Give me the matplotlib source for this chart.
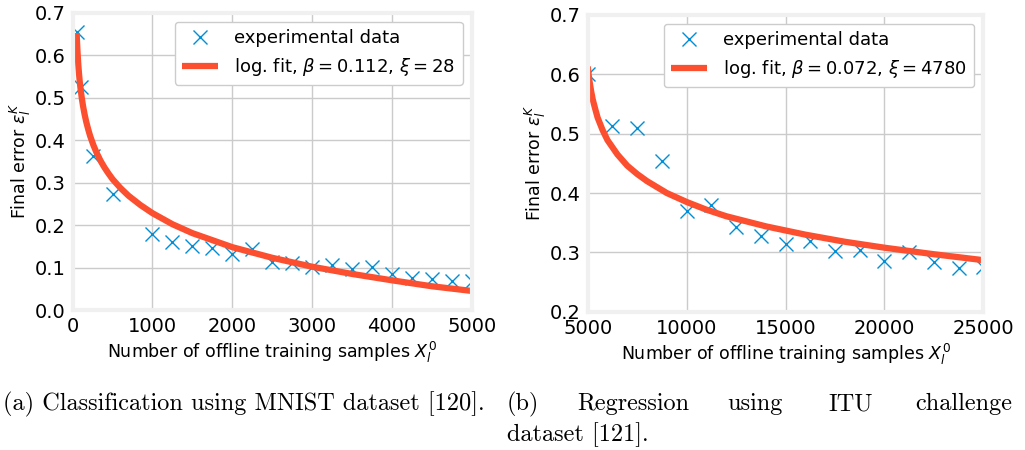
import matplotlib
matplotlib.use("Agg")
import matplotlib.pyplot as plt

# --- data ---
# (a) MNIST classification
mnist_x = [50, 100, 250, 500, 1000, 1250, 1500, 1750, 2000, 2250, 2500,
           2750, 3000, 3250, 3500, 3750, 4000, 4250, 4500, 4750, 5000]
mnist_err = [0.655, 0.524, 0.363, 0.272, 0.180, 0.159, 0.151, 0.145, 0.133,
             0.143, 0.112, 0.110, 0.102, 0.106, 0.096, 0.102, 0.086, 0.076,
             0.074, 0.069, 0.068]
mnist_fit_x = [50, 55, 60, 65, 70, 80, 90, 100, 115, 130, 150, 170, 195, 220,
               260, 300, 350, 400, 450, 500, 600, 700, 850, 1000, 1250, 1500,
               2000, 2500, 3000, 3500, 4000, 4500, 5000]
mnist_fit_y = [0.652, 0.629, 0.610, 0.594, 0.579, 0.555, 0.535, 0.519, 0.498,
               0.480, 0.460, 0.443, 0.425, 0.409, 0.388, 0.370, 0.351, 0.335,
               0.321, 0.308, 0.287, 0.269, 0.247, 0.228, 0.202, 0.181, 0.148,
               0.123, 0.102, 0.085, 0.070, 0.056, 0.045]

# (b) ITU challenge regression
itu_x = [5000, 6250, 7500, 8750, 10000, 11250, 12500, 13750, 15000, 16250,
         17500, 18750, 20000, 21250, 22500, 23750, 25000]
itu_err = [0.600, 0.513, 0.509, 0.454, 0.370, 0.380, 0.343, 0.328, 0.315,
           0.320, 0.303, 0.304, 0.286, 0.301, 0.284, 0.273, 0.276]
itu_fit_x = [5000, 5050, 5100, 5175, 5250, 5375, 5500, 5750, 6000, 6500, 7000,
             7500, 8000, 9000, 10000, 11000, 12000, 14000, 16000, 18000,
             20000, 22500, 25000]
itu_fit_y = [0.613, 0.598, 0.586, 0.571, 0.558, 0.542, 0.527, 0.506, 0.489,
             0.465, 0.446, 0.432, 0.420, 0.400, 0.385, 0.372, 0.361, 0.344,
             0.330, 0.318, 0.308, 0.297, 0.287]

fit_labels = [r"log. fit, $\beta = 0.112$, $\xi = 28$",
              r"log. fit, $\beta = 0.072$, $\xi = 4780$"]
xlabel = r"Number of offline training samples $X_l^0$"
ylabel = r"Final error $\varepsilon_l^K$"

BLUE = "#008fd5"
RED = "#fc4f30"

plt.style.use("fivethirtyeight")
plt.rcParams.update({
    "figure.facecolor": "white",
    "axes.facecolor": "white",
    "savefig.facecolor": "white",
    "savefig.edgecolor": "white",
    "font.family": "DejaVu Sans",
})

fig = plt.figure(figsize=(10.25, 4.5), dpi=100)
ax_a = fig.add_axes([0.0709, 0.311, 0.3893, 0.661])
ax_b = fig.add_axes([0.5734, 0.307, 0.3860, 0.660])


def draw_panel(ax, x, y, fx, fy, fit_label, xlim, ylim, xticks, yticks):
    ax.plot(x, y, "x", color=BLUE, markersize=10, markeredgewidth=1.0,
            label="experimental data")
    ax.plot(fx, fy, color=RED, linewidth=4.5, label=fit_label)
    ax.set_xlim(*xlim)
    ax.set_ylim(*ylim)
    ax.set_xticks(xticks)
    ax.set_yticks(yticks)
    ax.set_yticklabels([f"{v:.1f}" for v in yticks])
    ax.tick_params(labelsize=14, pad=5)
    ax.grid(True, color="#cbcbcb", linewidth=1.0)
    for sp in ax.spines.values():
        sp.set_color("#f0f0f0")
        sp.set_linewidth(3)
    ax.set_xlabel(xlabel, fontsize=12.5)
    ax.set_ylabel(ylabel, fontsize=12.5)
    ax.xaxis.set_label_coords(0.5, -0.10)
    ax.yaxis.set_label_coords(-0.10, 0.5)
    leg = ax.legend(loc="upper right", fontsize=13, numpoints=1,
                    handlelength=2.0, handletextpad=0.9, fancybox=True,
                    facecolor="white", edgecolor="#cccccc", framealpha=1.0)
    leg.get_frame().set_linewidth(1.0)


draw_panel(ax_a, mnist_x, mnist_err, mnist_fit_x, mnist_fit_y, fit_labels[0],
           (0, 5000), (0.0, 0.7), range(0, 5001, 1000),
           [0.0, 0.1, 0.2, 0.3, 0.4, 0.5, 0.6, 0.7])
draw_panel(ax_b, itu_x, itu_err, itu_fit_x, itu_fit_y, fit_labels[1],
           (5000, 25000), (0.2, 0.7), range(5000, 25001, 5000),
           [0.2, 0.3, 0.4, 0.5, 0.6, 0.7])

# captions (LaTeX-like serif)
cap = dict(family="cmr10", fontsize=17.5, va="center")
fig.text(3 / 1025, 1 - 404 / 450, "(a) Classification using MNIST dataset [120].",
         ha="left", **cap)
words_b = ["(b)", "Regression", "using", "ITU", "challenge"]
word_x = [507, 577, 727, 828, 1012]
for w, px in zip(words_b, word_x):
    fig.text(px / 1025, 1 - 404 / 450, w,
             ha="right" if w == "challenge" else "left", **cap)
fig.text(507 / 1025, 1 - 435 / 450, "dataset [121].", ha="left", **cap)

fig.savefig("out.png", dpi=100)
